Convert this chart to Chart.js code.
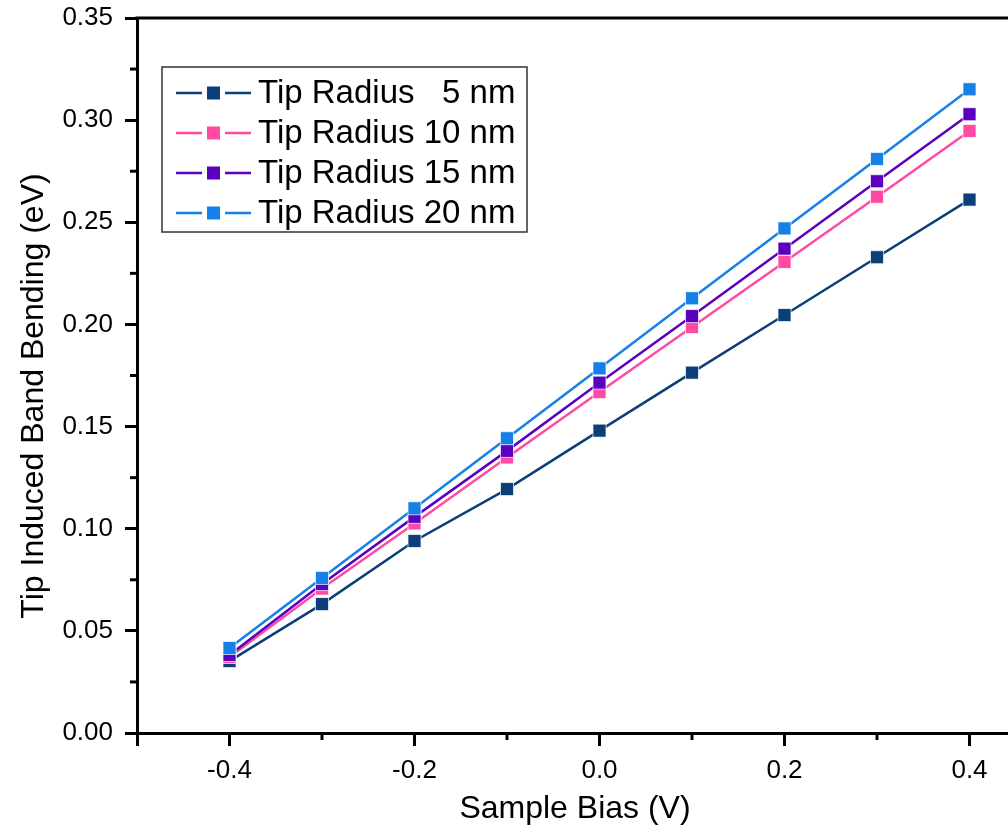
<!DOCTYPE html>
<html>
<head>
<meta charset="utf-8">
<script src="https://cdn.jsdelivr.net/npm/chart.js@4.4.0/dist/chart.umd.min.js"></script>
<style>
  html, body { margin: 0; padding: 0; background: #fff; overflow: hidden; }
  #wrap { width: 1008px; height: 839px; overflow: hidden; }
  canvas { display: block; }
</style>
</head>
<body>
<div id="wrap"><canvas id="chart" width="1075" height="839"></canvas></div>
<script>
// Sample bias values (V)
const biasValues = [-0.4, -0.3, -0.2, -0.1, 0.0, 0.1, 0.2, 0.3, 0.4];

// Tip induced band bending (eV) for each tip radius
const radius5 = [0.0352, 0.0631, 0.0940, 0.1194, 0.1480, 0.1764, 0.2046, 0.2329, 0.2611];
const radius10 = [0.0372, 0.0707, 0.1026, 0.1349, 0.1669, 0.1987, 0.2306, 0.2625, 0.2947];
const radius15 = [0.0382, 0.0729, 0.1058, 0.1381, 0.1715, 0.2041, 0.2371, 0.2701, 0.3029];
const radius20 = [0.0416, 0.0759, 0.1100, 0.1443, 0.1785, 0.2128, 0.2470, 0.2810, 0.3151];

const seriesLabels = ["Tip Radius   5 nm", "Tip Radius 10 nm", "Tip Radius 15 nm", "Tip Radius 20 nm"];
const seriesColors = ["#0b3f78", "#ff4aa3", "#5b00bf", "#1580e8"];

const xLabelTicks = [-0.4, -0.2, 0, 0.2, 0.4];

const FONT = "Arial, 'Liberation Sans', sans-serif";

function toPoints(values) {
    return biasValues.map((x, i) => ({ x: x, y: values[i] }));
}

function isXMajor(v) {
    const k = Math.round(v * 10);
    return k === -5 || k % 2 === 0;
}

function isYMajor(v) {
    return Math.round(v * 1000) % 50 === 0;
}

// Short minor ticks, top/right frame, axis titles and the legend box
const decorations = {
    id: "decorations",
    afterDraw(chart) {
        const ctx = chart.ctx;
        const area = chart.chartArea;
        const xs = chart.scales.x;
        const ys = chart.scales.y;

        ctx.save();
        ctx.strokeStyle = "#000";
        ctx.lineWidth = 3;

        // minor ticks
        xs.ticks.forEach(t => {
            if (!isXMajor(t.value)) {
                const px = xs.getPixelForValue(t.value);
                ctx.beginPath();
                ctx.moveTo(px, area.bottom);
                ctx.lineTo(px, area.bottom + 7);
                ctx.stroke();
            }
        });
        ys.ticks.forEach(t => {
            if (!isYMajor(t.value)) {
                const py = ys.getPixelForValue(t.value);
                ctx.beginPath();
                ctx.moveTo(area.left, py);
                ctx.lineTo(area.left - 7, py);
                ctx.stroke();
            }
        });

        // top and right frame
        ctx.beginPath();
        ctx.moveTo(area.left - 1.5, area.top);
        ctx.lineTo(area.right, area.top);
        ctx.lineTo(area.right, area.bottom);
        ctx.stroke();

        // axis titles
        ctx.fillStyle = "#000";
        ctx.font = "32px " + FONT;
        ctx.textAlign = "center";
        ctx.textBaseline = "middle";
        ctx.fillText("Sample Bias (V)", 575, 809);
        ctx.save();
        ctx.translate(34, 396);
        ctx.rotate(-Math.PI / 2);
        ctx.fillText("Tip Induced Band Bending (eV)", 0, 0);
        ctx.restore();

        // legend
        ctx.fillStyle = "#fff";
        ctx.fillRect(162, 67, 365, 165);
        ctx.strokeStyle = "#333";
        ctx.lineWidth = 1.5;
        ctx.strokeRect(162, 67, 365, 165);

        ctx.font = "33px " + FONT;
        ctx.textAlign = "left";
        seriesLabels.forEach((label, i) => {
            const y = 93 + i * 40;
            ctx.strokeStyle = seriesColors[i];
            ctx.lineWidth = 2.5;
            ctx.beginPath();
            ctx.moveTo(176, y);
            ctx.lineTo(202, y);
            ctx.moveTo(225, y);
            ctx.lineTo(251, y);
            ctx.stroke();
            ctx.fillStyle = seriesColors[i];
            ctx.fillRect(207, y - 6.5, 13, 13);
            ctx.fillStyle = "#000";
            ctx.fillText(label, 258, y + 1);
        });

        ctx.restore();
    }
};

const datasets = [radius5, radius10, radius15, radius20].map((vals, i) => ({
    label: seriesLabels[i],
    data: toPoints(vals),
    borderColor: seriesColors[i],
    backgroundColor: seriesColors[i],
    borderWidth: 2.5,
    pointStyle: "rect",
    pointRadius: 9.2,
    pointHoverRadius: 9.2,
    pointBorderWidth: 1,
    pointBorderColor: "rgba(255,255,255,0.7)",
    order: 3 - i
}));

new Chart(document.getElementById("chart"), {
    type: "line",
    data: { datasets: datasets },
    options: {
        responsive: false,
        animation: false,
        layout: { padding: { top: 18, right: 13, left: 0, bottom: 0 } },
        plugins: {
            legend: { display: false },
            tooltip: { enabled: false }
        },
        scales: {
            x: {
                type: "linear",
                min: -0.5,
                max: 0.5,
                afterFit(scale) {
                    scale.height = 106;
                    scale.paddingLeft = 0;
                    scale.paddingRight = 0;
                },
                border: { color: "#000", width: 3 },
                grid: {
                    drawOnChartArea: false,
                    drawTicks: true,
                    tickLength: 13,
                    tickWidth: 3,
                    tickColor: c => (c.tick && isXMajor(c.tick.value)) ? "#000" : "rgba(0,0,0,0)"
                },
                ticks: {
                    stepSize: 0.1,
                    maxRotation: 0,
                    autoSkip: false,
                    padding: 9,
                    color: "#000",
                    font: { family: FONT, size: 26 },
                    callback: v => {
                        const hit = xLabelTicks.find(t => Math.abs(t - v) < 1e-6);
                        return hit === undefined ? "" : hit.toFixed(1);
                    }
                }
            },
            y: {
                min: 0,
                max: 0.35,
                afterFit(scale) {
                    scale.width = 137;
                    scale.paddingTop = 0;
                    scale.paddingBottom = 0;
                },
                border: { color: "#000", width: 3 },
                grid: {
                    drawOnChartArea: false,
                    drawTicks: true,
                    tickLength: 12,
                    tickWidth: 3,
                    tickColor: c => (c.tick && isYMajor(c.tick.value)) ? "#000" : "rgba(0,0,0,0)"
                },
                ticks: {
                    stepSize: 0.025,
                    autoSkip: false,
                    padding: 12,
                    color: "#000",
                    font: { family: FONT, size: 26 },
                    callback: v => isYMajor(v) ? v.toFixed(2) : ""
                }
            }
        }
    },
    plugins: [decorations]
});
</script>
</body>
</html>
